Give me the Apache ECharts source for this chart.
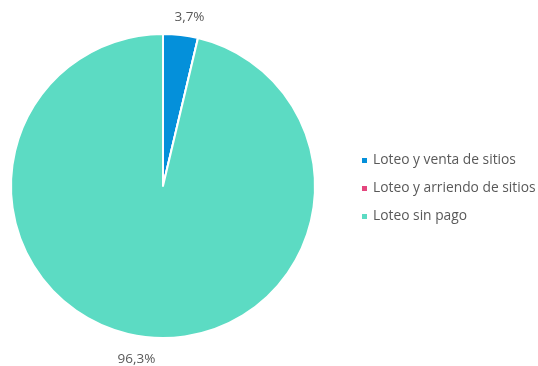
<!DOCTYPE html>
<html><head><meta charset="utf-8">
<script src="https://cdn.jsdelivr.net/npm/echarts@6/dist/echarts.min.js"></script>
<style>html,body{margin:0;padding:0;background:#fff}#c{width:538px;height:366px}</style>
</head><body><div id="c"></div>
<script>
var categories = ['Loteo y venta de sitios', 'Loteo y arriendo de sitios', 'Loteo sin pago'];
var values = [3.7, 0, 96.3];
var colors = ['#0490DA', '#E4467E', '#5CDBC3'];

var data = categories.map(function (n, i) {
  var d = { name: n, value: values[i], itemStyle: { color: colors[i] } };
  if (values[i] === 0) d.label = { show: false };
  return d;
});

var chart = echarts.init(document.getElementById('c'), null, { renderer: 'canvas' });
chart.setOption({
  animation: false,
  legend: {
    orient: 'vertical',
    left: 355,
    top: 148,
    icon: 'rect',
    itemWidth: 7,
    itemHeight: 7,
    itemGap: 13,
    textStyle: { fontFamily: 'Open Sans', fontSize: 13.8, color: '#595959', lineHeight: 15 },
    data: categories
  },
  series: [{
    type: 'pie',
    center: [163, 186],
    radius: [0, 152],
    startAngle: 90,
    clockwise: true,
    avoidLabelOverlap: false,
    itemStyle: { borderColor: '#fff', borderWidth: 2 },
    label: {
      show: true,
      position: 'outside',
      fontFamily: 'Open Sans',
      fontSize: 13.5,
      color: '#595959',
      formatter: function (p) { return String(p.value).replace('.', ',') + '%'; }
    },
    labelLine: { show: false, length: 16, length2: 0 },
    labelLayout: function (p) {
      return { align: 'center', dx: p.dataIndex === 2 ? -2 : 2, dy: p.dataIndex === 2 ? 6 : -2 };
    },
    data: data
  }]
});
</script></body></html>
